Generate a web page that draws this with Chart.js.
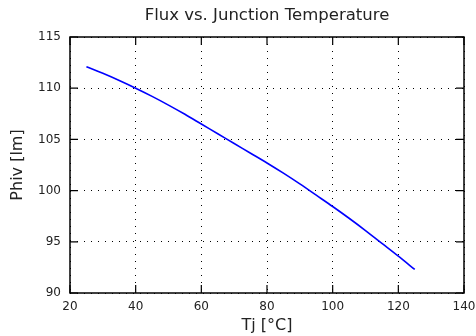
<!DOCTYPE html>
<html><head><meta charset="utf-8">
<script src="https://cdn.jsdelivr.net/npm/chart.js@4"></script>
<style>html,body{margin:0;padding:0;background:#fff;}canvas{display:block}</style>
</head><body>
<canvas id="c" width="476" height="336"></canvas>
<script>
const temperatures = [25,30,35,40,45,50,55,60,65,70,75,80,85,90,95,100,105,110,115,120,125];
const flux = [112.1,111.45,110.75,110.0,109.2,108.35,107.45,106.5,105.55,104.6,103.65,102.7,101.7,100.65,99.55,98.45,97.3,96.1,94.85,93.6,92.3];
const xTicks = [20,40,60,80,100,120,140];
const yTicks = [90,95,100,105,110,115];
const titleText = 'Flux vs. Junction Temperature';
const xTitle = 'Tj [°C]';
const yTitle = 'Phiv [lm]';

const FONT = 'DejaVu Sans';

const framePlugin = {
  id: 'frame',
  afterDraw(chart) {
    const {ctx, chartArea: a, scales} = chart;
    ctx.save();
    ctx.strokeStyle = '#000';
    ctx.lineWidth = 1.5;
    ctx.strokeRect(a.left, a.top, a.right - a.left, a.bottom - a.top);
    ctx.lineWidth = 1.2;
    const L = 8;
    ctx.beginPath();
    xTicks.forEach(v => {
      const x = scales.x.getPixelForValue(v);
      ctx.moveTo(x, a.bottom); ctx.lineTo(x, a.bottom - L);
      ctx.moveTo(x, a.top); ctx.lineTo(x, a.top + L);
    });
    yTicks.forEach(v => {
      const y = scales.y.getPixelForValue(v);
      ctx.moveTo(a.left, y); ctx.lineTo(a.left + L, y);
      ctx.moveTo(a.right, y); ctx.lineTo(a.right - L, y);
    });
    ctx.stroke();
    ctx.restore();
  }
};

new Chart(document.getElementById('c'), {
  type: 'line',
  data: {
    datasets: [{
      data: temperatures.map((t, i) => ({x: t, y: flux[i]})),
      borderColor: '#0000ff',
      borderWidth: 1.6,
      pointRadius: 0,
      tension: 0.3,
      fill: false
    }]
  },
  options: {
    responsive: false,
    animation: false,
    devicePixelRatio: 1,
    layout: {padding: {top: 0, right: 12, bottom: 0, left: 0}},
    plugins: {
      legend: {display: false},
      tooltip: {enabled: false},
      title: {
        display: true,
        fullSize: false,
        text: titleText,
        color: '#222',
        font: {family: FONT, size: 16.5, weight: 'normal', lineHeight: 1.2},
        padding: {top: 6, bottom: 11.2}
      }
    },
    scales: {
      x: {
        type: 'linear',
        min: 20, max: 140,
        afterBuildTicks: s => { s.ticks = xTicks.map(v => ({value: v})); },
        afterFit: s => { s.height = 43; s.paddingLeft = 0; s.paddingRight = 0; },
        grid: {color: '#000', lineWidth: 1, drawTicks: false},
        border: {display: false, dash: [1, 6]},
        ticks: {color: '#222', font: {family: FONT, size: 12}, padding: 7, maxRotation: 0},
        title: {display: true, text: xTitle, color: '#222', font: {family: FONT, size: 16, lineHeight: 1.0}, padding: {top: 0, bottom: 2}}
      },
      y: {
        type: 'linear',
        min: 90, max: 115,
        afterBuildTicks: s => { s.ticks = yTicks.map(v => ({value: v})); },
        afterFit: s => { s.width = 70; s.paddingTop = 0; s.paddingBottom = 0; },
        grid: {color: '#000', lineWidth: 1, drawTicks: false},
        border: {display: false, dash: [1, 6]},
        ticks: {color: '#222', font: {family: FONT, size: 12}, padding: 9},
        title: {display: true, text: yTitle, color: '#222', font: {family: FONT, size: 16, lineHeight: 1.0}, padding: {top: 10, bottom: 0}}
      }
    }
  },
  plugins: [framePlugin]
});
</script>
</body></html>
